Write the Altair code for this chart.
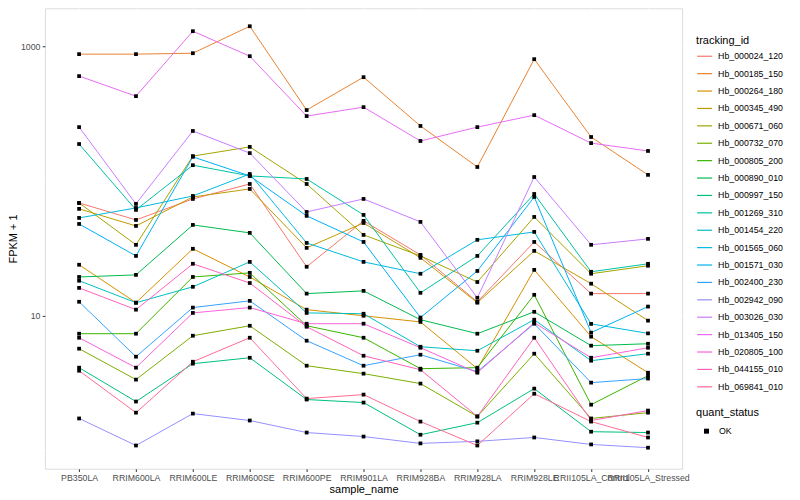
import altair as alt
import pandas as pd

samples = ["PB350LA", "RRIM600LA", "RRIM600LE", "RRIM600SE", "RRIM600PE", "RRIM901LA",
           "RRIM928BA", "RRIM928LA", "RRIM928LE", "RRII105LA_Control", "RRII105LA_Stressed"]

ids = ["Hb_000024_120", "Hb_000185_150", "Hb_000264_180", "Hb_000345_490", "Hb_000671_060",
       "Hb_000732_070", "Hb_000805_200", "Hb_000890_010", "Hb_000997_150", "Hb_001269_310",
       "Hb_001454_220", "Hb_001565_060", "Hb_001571_030", "Hb_002400_230", "Hb_002942_090",
       "Hb_003026_030", "Hb_013405_150", "Hb_020805_100", "Hb_044155_010", "Hb_069841_010"]

colors = ["#F8766D", "#EA8331", "#D89000", "#C09B00", "#A3A500", "#7CAE00", "#39B600", "#00BB4E",
          "#00BF7D", "#00C1A3", "#00BFC4", "#00BAE0", "#00B0F6", "#35A2FF", "#9590FF", "#C77CFF",
          "#E76BF3", "#FA62DB", "#FF62BC", "#FF6C91"]

hb_000024_120 = [68.7, 51.4, 73.6, 95.0, 23.1, 50.6, 28.3, 12.7, 35.3, 14.6, 14.6]
hb_000185_150 = [873, 873, 887, 1406, 336, 589, 256, 127, 801, 212, 111]
hb_000264_180 = [23.9, 12.5, 31.4, 19.4, 11.1, 10.0, 9.0, 4.05, 21.9, 7.0, 3.78]
hb_000345_490 = [62.1, 46.4, 76.1, 87.3, 31.9, 48.8, 26.9, 12.5, 30.3, 17.3, 9.2]
hb_000671_060 = [68.7, 33.6, 153, 179, 95.0, 39.8, 27.8, 17.8, 54.1, 20.5, 23.5]
hb_000732_070 = [5.70, 3.36, 7.11, 8.43, 4.26, 3.72, 3.14, 1.79, 5.23, 1.73, 1.91]
hb_000805_200 = [7.36, 7.36, 19.4, 20.8, 8.43, 6.87, 4.05, 4.12, 14.3, 2.19, 3.59]
hb_000890_010 = [19.4, 20.1, 47.2, 41.2, 14.6, 15.3, 9.35, 7.36, 10.7, 6.0, 6.2]
hb_000997_150 = [4.12, 2.31, 4.41, 4.88, 2.39, 2.27, 1.31, 1.61, 2.88, 1.38, 1.36]
hb_001269_310 = [188, 61.0, 131, 109, 103.5, 56.0, 14.8, 27.8, 80.1, 21.2, 24.3]
hb_001454_220 = [18.2, 12.5, 16.4, 25.1, 10.5, 10.35, 5.89, 5.5, 9.35, 4.64, 5.23]
hb_001565_060 = [53.2, 63.1, 77.4, 112.7, 34.7, 25.1, 20.5, 36.6, 41.9, 8.7, 7.4]
hb_001571_030 = [48.0, 27.8, 151, 109, 55.1, 35.3, 9.7, 21.5, 76.1, 7.5, 11.7]
hb_002400_230 = [12.7, 4.97, 11.5, 12.9, 6.53, 4.26, 5.14, 3.85, 8.73, 3.19, 3.42]
hb_002942_090 = [1.73, 1.09, 1.88, 1.67, 1.36, 1.27, 1.13, 1.17, 1.25, 1.11, 1.05]
hb_003026_030 = [251, 67.6, 235, 161, 58.9, 73.6, 49.7, 13.6, 107, 33.6, 37.2]
hb_013405_150 = [600, 426, 1292, 843, 303, 353, 198, 251, 308, 191, 167]
hb_020805_100 = [6.87, 4.12, 10.5, 11.5, 8.73, 8.73, 5.79, 3.78, 8.87, 4.88, 5.79]
hb_044155_010 = [16.1, 11.1, 24.3, 17.5, 8.29, 5.05, 3.98, 1.79, 6.87, 1.67, 1.98]
hb_069841_010 = [3.91, 1.91, 4.56, 6.87, 2.43, 2.60, 1.64, 1.09, 2.64, 1.64, 1.25]

series = [hb_000024_120, hb_000185_150, hb_000264_180, hb_000345_490, hb_000671_060,
          hb_000732_070, hb_000805_200, hb_000890_010, hb_000997_150, hb_001269_310,
          hb_001454_220, hb_001565_060, hb_001571_030, hb_002400_230, hb_002942_090,
          hb_003026_030, hb_013405_150, hb_020805_100, hb_044155_010, hb_069841_010]

major_breaks = [10, 1000]
minor_breaks = [1, 100]

rows = []
for tid, vals in zip(ids, series):
    for i, (s, v) in enumerate(zip(samples, vals)):
        rows.append({"tracking_id": tid, "sample_name": s, "idx": i,
                     "fpkm1": v, "quant_status": "OK"})
df = pd.DataFrame(rows)
minor_df = pd.DataFrame({"fpkm1": minor_breaks})

FONT = "Liberation Sans"

x_enc = alt.X("sample_name:N", sort=samples,
              scale=alt.Scale(type="point", padding=0.6),
              axis=alt.Axis(title="sample_name", labelAngle=0, labelOverlap=False,
                            labelBound=False, labelFontSize=8.8, labelColor="#4D4D4D",
                            tickSize=2.75, tickColor="#333333", labelPadding=2.2,
                            domain=False, grid=True, gridColor="white", gridWidth=1.07,
                            titleFontSize=11, titleFontWeight="normal", titleColor="black",
                            titlePadding=1))
y_enc = alt.Y("fpkm1:Q",
              scale=alt.Scale(type="log", domain=[0.733, 1910], nice=False),
              axis=alt.Axis(title="FPKM + 1", values=major_breaks, format="d",
                            labelFontSize=8.8, labelColor="#4D4D4D", tickSize=2.75,
                            tickColor="#333333", labelPadding=2.2, domain=False,
                            grid=True, gridColor="white", gridWidth=1.07,
                            titleFontSize=11, titleFontWeight="normal", titleColor="black",
                            titlePadding=2))

minor_rules = alt.Chart(minor_df).mark_rule(color="white", strokeWidth=0.55).encode(y=y_enc)

lines = alt.Chart(df).mark_line(strokeWidth=1).encode(
    x=x_enc, y=y_enc,
    color=alt.Color("tracking_id:N",
                    scale=alt.Scale(domain=ids, range=colors),
                    legend=alt.Legend(orient="none", legendX=652, legendY=27,
                                      title="tracking_id", symbolType="stroke",
                                      symbolSize=225, symbolStrokeWidth=1.2,
                                      rowPadding=3.42, titlePadding=1.5, labelOffset=5,
                                      padding=0, labelFontSize=8.8, titleFontSize=11,
                                      titleFontWeight="normal", labelColor="black",
                                      titleColor="black")),
    order="idx:Q",
)

points = alt.Chart(df).mark_point(filled=True, size=14, opacity=1, color="black").encode(
    x=x_enc, y=y_enc,
    shape=alt.Shape("quant_status:N", scale=alt.Scale(domain=["OK"], range=["square"]),
                    legend=alt.Legend(orient="none", legendX=652, legendY=399,
                                      title="quant_status", symbolFillColor="black",
                                      symbolStrokeColor="black", symbolSize=25,
                                      symbolOffset=6, labelOffset=8, titlePadding=9,
                                      padding=0, labelFontSize=8.8, titleFontSize=11,
                                      titleFontWeight="normal", labelColor="black",
                                      titleColor="black")),
)

chart = alt.layer(minor_rules, lines, points).properties(
    width=638, height=461,
    autosize=alt.AutoSizeParams(type="none"),
    padding={"left": 37, "top": 0, "right": 110, "bottom": 30},
).configure_view(fill="#EBEBEB", strokeWidth=0).configure(font=FONT)

chart.save("out.html", embed_options={"renderer": "svg", "actions": False})
